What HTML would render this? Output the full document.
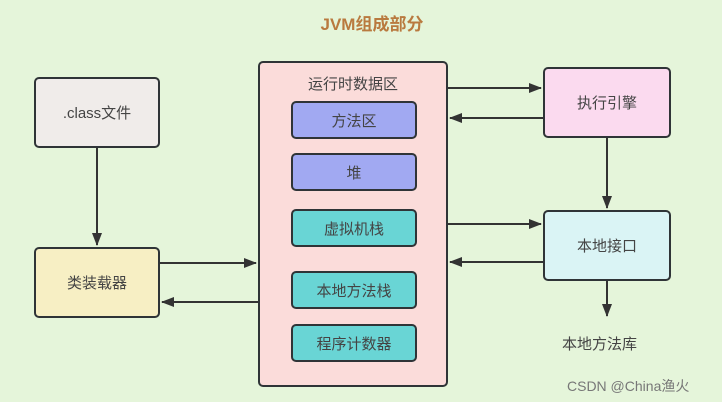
<!DOCTYPE html><html><head><meta charset="utf-8"><style>
body{margin:0;width:722px;height:402px;background:#e5f5da;font-family:"Liberation Sans","Noto Sans CJK SC",sans-serif;position:relative;overflow:hidden}
.b{position:absolute;box-sizing:border-box;border:2px solid #2f3437;border-radius:5px;display:flex;align-items:center;justify-content:center;font-size:15px;color:#444}
.t{position:absolute;font-size:15px;color:#444}
</style></head><body>
<div class="t" style="left:0;width:744px;top:10px;text-align:center;font-weight:bold;color:#b97a3f;font-size:17px">JVM组成部分</div>
<div class="b" style="left:34px;top:77px;width:126px;height:71px;background:#f0ecea">.class文件</div>
<div class="b" style="left:34px;top:247px;width:126px;height:71px;background:#f7efc4">类装载器</div>
<div class="b" style="left:258px;top:61px;width:190px;height:326px;background:#fbdcda;align-items:flex-start;padding-top:10px">运行时数据区</div>
<div class="b" style="left:291px;top:101px;width:126px;height:38px;background:#a1a9f2">方法区</div>
<div class="b" style="left:291px;top:153px;width:126px;height:38px;background:#a1a9f2">堆</div>
<div class="b" style="left:291px;top:209px;width:126px;height:38px;background:#69d5d5">虚拟机栈</div>
<div class="b" style="left:291px;top:271px;width:126px;height:38px;background:#69d5d5">本地方法栈</div>
<div class="b" style="left:291px;top:324px;width:126px;height:38px;background:#69d5d5">程序计数器</div>
<div class="b" style="left:543px;top:67px;width:128px;height:71px;background:#fbdaef">执行引擎</div>
<div class="b" style="left:543px;top:210px;width:128px;height:71px;background:#daf4f5">本地接口</div>
<div class="t" style="left:562px;top:333px">本地方法库</div>
<div class="t" style="left:567px;top:376px;font-size:14px;color:#777">CSDN @China渔火</div>
<svg width="722" height="402" style="position:absolute;left:0;top:0">
<defs><marker id="a" markerWidth="13" markerHeight="10" refX="12" refY="5" orient="auto" markerUnits="userSpaceOnUse"><path d="M0,0L13,5L0,10z" fill="#333"/></marker></defs>
<g stroke="#333" stroke-width="2" marker-end="url(#a)">
<line x1="97" y1="148" x2="97" y2="245"/>
<line x1="160" y1="263" x2="256" y2="263"/>
<line x1="258" y1="302" x2="162" y2="302"/>
<line x1="448" y1="88" x2="541" y2="88"/>
<line x1="543" y1="118" x2="450" y2="118"/>
<line x1="448" y1="224" x2="541" y2="224"/>
<line x1="543" y1="262" x2="450" y2="262"/>
<line x1="607" y1="138" x2="607" y2="208"/>
<line x1="607" y1="281" x2="607" y2="316"/>
</g></svg>
</body></html>
